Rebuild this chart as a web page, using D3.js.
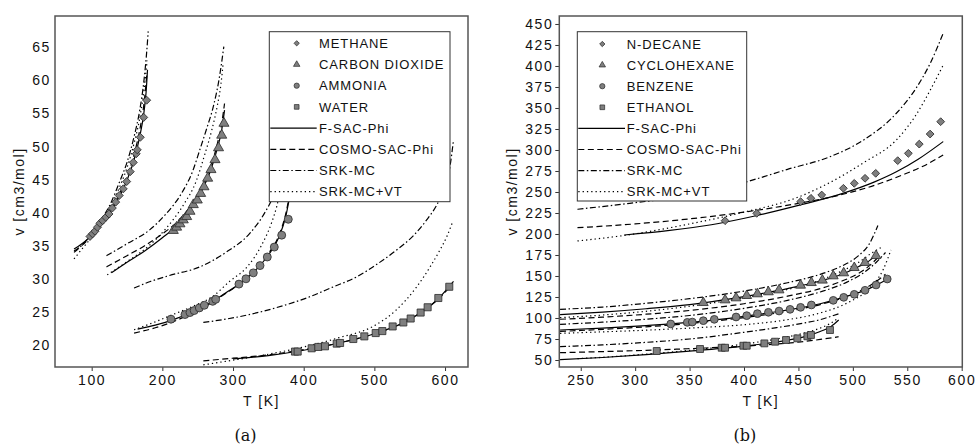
<!DOCTYPE html>
<html>
  <head>
    <meta charset="UTF-8">
    <title>Liquid molar volume</title>
    <script src="https://cdn.jsdelivr.net/npm/d3@7"></script>
    <style>
      body { margin: 0; background: #fff; }
      svg text { font-family: "Liberation Sans", Arial, sans-serif; fill: #111; }
      .tick text { font-size: 14px; letter-spacing: 1.6px; }
      .legend text { font-size: 13px; letter-spacing: 0.9px; }
      .title { font-size: 14px; letter-spacing: 1.5px; }
      .caption { font-family: "DejaVu Serif", "Liberation Serif", serif !important; font-size: 16px; }
    </style>
  </head>
  <body>
    <script>
      var models = ["F-SAC-Phi", "COSMO-SAC-Phi", "SRK-MC", "SRK-MC+VT"];

      // ---- panel (a) ----
      var compoundsA = ["METHANE", "CARBON DIOXIDE", "AMMONIA", "WATER"];
      var xTicksA = [100, 200, 300, 400, 500, 600];
      var yTicksA = [20, 25, 30, 35, 40, 45, 50, 55, 60, 65];

      var methaneExp = [[97.6,36.4],[101.2,36.8],[104.7,37.2],[108.2,37.8],[111.7,38.4],[115.5,38.8],[120,39.3],[124.5,39.8],[129.2,40.7],[134,41.6],[139,42.6],[144.7,43.6],[149.5,44.7],[154.6,46.2],[158.9,47.6],[163,48.9],[164.5,49.5],[168.8,51.4],[173.6,54.4],[177.8,57.0]];
      var methaneFsac = [[75,34.5],[90,35.6],[100,36.6],[115,38.5],[125,39.9],[140,42.6],[150,44.9],[160,48],[168,51.5],[174,55.2],[177,58.2],[179,61.6]];
      var methaneCosmo = [[75,34.2],[90,35.4],[100,36.5],[115,38.5],[125,40],[140,43],[150,45.4],[160,48.8],[168,52.5],[174,56.5],[178,60.8]];
      var methaneSrk = [[75,34.0],[90,35.5],[100,36.8],[115,39.2],[125,41.0],[140,44.8],[150,47.6],[160,51.5],[168,55.5],[174,60],[178,64.5],[180,67.4]];
      var methaneSrkVt = [[75,33.0],[90,35],[100,36.3],[115,38.8],[125,40.6],[140,44],[150,46.8],[160,50.5],[168,54.3],[174,58.5],[178.5,63]];

      var co2Exp = [[215.5,37.3],[220.2,37.8],[224.9,38.3],[229.6,38.9],[234.4,39.4],[239.1,40.2],[243.8,41.2],[249.4,41.9],[254.2,42.9],[258.9,43.9],[264.1,45.2],[268.8,46.5],[274.5,48],[279.5,49.8],[284,51.7],[287.2,53.5]];
      var co2Fsac = [[128,30.9],[150,32.5],[175,34.2],[200,36.2],[220,38],[240,40.7],[255,43.2],[268,46.3],[278,49.8],[284,52.5],[288,55.5]];
      var co2Cosmo = [[121,31.8],[150,33.5],[175,35.0],[200,36.8],[220,38.5],[240,41.0],[255,43.5],[268,46.8],[278,50.5],[284,53.5],[288,56.5]];
      var co2Srk = [[121,33.5],[150,35.3],[182,37.4],[205,39.8],[227,42.9],[243,46.3],[253,49.5],[263,52.8],[272,56],[280,60],[287,65.1]];
      var co2SrkVt = [[122,30.6],[150,32.6],[180,34.9],[205,37.6],[230,41.2],[248,44.8],[260,48.8],[270,52.5],[278,56.3],[283,59.5],[286,62.5]];

      var ammoniaExp = [[212.2,23.9],[232,24.6],[239.1,24.9],[245,25.2],[252.3,25.6],[259.4,26],[271.2,26.6],[275.5,26.9],[308.4,29.2],[318.3,30],[328.7,30.9],[338.2,32],[348.5,33.3],[358.4,34.8],[368.9,36.6],[378.2,39]];
      var ammoniaFsac = [[165,22.4],[190,23.0],[215,23.8],[240,24.9],[265,26.2],[290,27.9],[310,29.3],[330,31.1],[350,33.6],[365,36.3],[375,39.6],[382,43.5]];
      var ammoniaCosmo = [[160,21.8],[190,22.6],[215,23.5],[240,24.7],[265,26.1],[290,27.8],[310,29.3],[330,31.2],[350,33.8],[365,36.6],[375,40],[382,44]];
      var ammoniaSrk = [[160,28.6],[183,29.6],[210,30.5],[253,31.8],[290,34],[324,36.9],[345,40],[357,42.5],[365,45]];
      var ammoniaSrkVt = [[160,22.3],[190,23.5],[215,24.6],[240,25.7],[272,27.4],[295,29.6],[320,31.8],[340,35],[355,38.6],[362,41],[370,45]];

      var waterExp = [[387.7,19.0],[391.5,19.0],[411.3,19.5],[420.7,19.7],[430.1,19.8],[446.7,20.2],[451.5,20.3],[470.2,20.9],[485.8,21.3],[501.9,21.8],[511.3,22.1],[525.9,22.8],[541,23.4],[551.4,24],[565.5,24.9],[575.4,25.7],[590.5,27.1],[606,28.8]];
      var waterFsac = [[300,17.9],[350,18.4],[400,19.2],[450,20.3],[500,21.7],[540,23.3],[570,25.2],[595,27.5],[612,29.6]];
      var waterCosmo = [[258,17.6],[300,18.0],[350,18.5],[400,19.3],[450,20.3],[500,21.7],[540,23.3],[570,25.2],[595,27.4],[610,29.2]];
      var waterSrk = [[258,23.4],[310,24.3],[360,25.6],[404,27.1],[440,28.7],[475,30.3],[505,32.3],[532,34.4],[555,36.5],[574,38.9],[590,41.5],[600,44],[607,47],[612,51]];
      var waterSrkVt = [[258,17.0],[300,17.7],[350,18.6],[400,19.7],[450,21.1],[498,22.8],[530,25.2],[560,28.8],[580,32],[593,34.4],[603,36.5],[610,38.4]];

      // ---- panel (b) ----
      var compoundsB = ["N-DECANE", "CYCLOHEXANE", "BENZENE", "ETHANOL"];
      var xTicksB = [250, 300, 350, 400, 450, 500, 550, 600];
      var yTicksB = [50, 75, 100, 125, 150, 175, 200, 225, 250, 275, 300, 325, 350, 375, 400, 425, 450];

      var decaneExp = [[382.6,215.8],[411.7,224.6],[452,238.5],[461.5,242.5],[471.4,246.4],[491.3,254.4],[501.3,260.3],[511.2,266.3],[521,272.2],[541.2,287.3],[551,296],[561,307],[571,319],[580.7,333.7]];
      var decaneFsac = [[290,198.8],[330,204],[370,211],[412,222],[450,234],[490,248],[520,262],[540,274],[560,289],[583,310]];
      var decaneCosmo = [[247,207.5],[300,212],[350,218],[400,226],[450,236.5],[490,247],[520,258],[545,270],[565,281],[583,294]];
      var decaneSrk = [[247,229.4],[295,236.5],[350,246],[402,262],[440,277],[479,292],[510,312],[540,343.7],[559,375.4],[571,403],[583,439]];
      var decaneSrkVt = [[247,191.7],[297,199.6],[350,212],[400,226],[448,243],[480,262],[510,285],[540,312],[559,343.7],[571,371],[583,401]];

      var cyclohexaneExp = [[362.6,118.2],[382.6,121.4],[392.7,123.8],[402.5,126.6],[412.3,128.6],[422.4,131],[432.2,133.3],[452,138.9],[461.9,142],[472,144.9],[482,150],[491.6,153.6],[501.3,159.9],[511.2,165.9],[521.3,174.2]];
      var cyclohexaneFsac = [[231,104],[270,107],[310,111],[350,116],[400,125.5],[440,135],[470,144],[490,152],[505,161],[515,168],[523,177]];
      var cyclohexaneCosmo = [[231,98.5],[270,101],[310,104.5],[350,109],[400,117],[440,126],[470,135],[490,144],[505,153],[515,162],[523,172]];
      var cyclohexaneSrk = [[231,110.3],[270,113],[310,117.5],[350,123],[400,132],[440,142],[470,152],[490,162],[505,174],[515,188],[523,210]];
      var cyclohexaneSrkVt = [[231,100.4],[270,103.5],[310,108],[350,114],[400,124],[440,134],[470,145],[490,156],[505,166],[517,177],[526,184]];

      var benzeneExp = [[332.7,92.9],[347.9,94.8],[352.5,95.2],[362.6,96.8],[372.7,98.4],[392.7,101.2],[402.5,102.8],[412.3,105.2],[422.4,106.8],[432.2,108.3],[442.3,110.3],[452,112.7],[461.9,115.5],[482,121],[491.6,124.6],[501.3,128.2],[511.2,133],[521.3,139.3],[531.6,146.4]];
      var benzeneFsac = [[231,85.7],[270,88],[310,91],[350,94.7],[400,102],[440,109.5],[470,117],[495,126],[515,135],[533,147]];
      var benzeneCosmo = [[231,84],[270,86.5],[310,89.5],[350,93.5],[400,100.5],[440,108],[470,116],[495,126],[515,138],[530,152]];
      var benzeneSrk = [[231,92.5],[270,95],[310,98.5],[350,103],[400,111.5],[440,121],[470,131],[495,143],[510,154],[522,167],[530,178]];
      var benzeneSrkVt = [[231,81.7],[270,83.5],[310,85.5],[350,88],[400,92],[440,98],[470,106],[495,118],[515,135],[528,158],[535,181]];

      var ethanolExp = [[319.8,60.7],[359.6,63.1],[379.5,64.6],[382.6,64.6],[399.4,67],[402.5,67],[418.7,69.8],[428.5,71.8],[438.6,73.8],[449,75.8],[458.2,78.2],[461.5,79.8],[479,85.7]];
      var ethanolFsac = [[231,50.5],[270,53],[310,56.5],[350,60.5],[400,66.5],[430,71.5],[455,77.5],[470,84],[480,90],[487,97.6]];
      var ethanolCosmo = [[231,58.7],[270,60],[310,61.5],[350,63.5],[400,66.5],[430,69],[455,72],[470,74.5],[487,77.7]];
      var ethanolSrk = [[231,65.9],[270,68],[310,71],[350,75],[400,83],[430,88.5],[455,94],[470,98],[480,102],[487,105]];
      var ethanolSrkVt = [[247,51.6],[280,54],[310,57],[350,61.5],[400,69],[430,75],[455,82],[470,88],[480,94],[487,100.4]];

      // line style per model
      var dashes = { "F-SAC-Phi": null, "COSMO-SAC-Phi": "6,3.5", "SRK-MC": "6,2.5,1.5,2.5", "SRK-MC+VT": "1.3,3" };
      var symbols = [
        { type: d3.symbolSquare, rotate: 45, size: 32, legendSize: 14 },
        { type: d3.symbolTriangle, rotate: 0, size: 44, legendSize: 18 },
        { type: d3.symbolCircle, rotate: 0, size: 50, legendSize: 22 },
        { type: d3.symbolSquare, rotate: 0, size: 50, legendSize: 22 }
      ];

      var svg = d3.select("body").append("svg")
        .attr("width", 975)
        .attr("height", 446);

      function drawPanel(p) {
        var x = d3.scaleLinear().domain(p.xDomain).range([p.left, p.right]);
        var y = d3.scaleLinear().domain(p.yDomain).range([p.bottom, p.top]);
        var g = svg.append("g");

        g.append("clipPath").attr("id", p.id + "clip")
          .append("rect")
          .attr("x", p.left).attr("y", p.top)
          .attr("width", p.right - p.left).attr("height", p.bottom - p.top);

        var plot = g.append("g").attr("clip-path", "url(#" + p.id + "clip)");
        var line = d3.line()
          .x(function (d) { return x(d[0]); })
          .y(function (d) { return y(d[1]); })
          .curve(d3.curveMonotoneX);

        // model curves
        p.curves.forEach(function (set) {
          set.forEach(function (data, m) {
            plot.append("path")
              .datum(data)
              .attr("d", line)
              .attr("fill", "none")
              .attr("stroke", "#000")
              .attr("stroke-width", 1.2)
              .attr("stroke-dasharray", dashes[models[m]]);
          });
        });

        // experimental points
        p.exp.forEach(function (data, c) {
          var s = symbols[c];
          plot.selectAll(".pt" + c)
            .data(data)
            .enter().append("path")
            .attr("d", d3.symbol().type(s.type).size(s.size * p.markerScale))
            .attr("transform", function (d) {
              return "translate(" + x(d[0]) + "," + y(d[1]) + ") rotate(" + s.rotate + ")";
            })
            .attr("fill", "#7f7f7f")
            .attr("stroke", "#2a2a2a")
            .attr("stroke-width", 0.8);
        });

        // axes
        var xAxis = g.append("g")
          .attr("transform", "translate(0," + p.bottom + ")")
          .call(d3.axisBottom(x).tickValues(p.xTicks).tickSize(4).tickPadding(4));
        var yAxis = g.append("g")
          .attr("transform", "translate(" + p.left + ",0)")
          .call(d3.axisLeft(y).tickValues(p.yTicks).tickSize(p.yTickSize).tickPadding(p.yTickPad));
        [xAxis, yAxis].forEach(function (a) {
          a.select(".domain").remove();
          a.selectAll(".tick line").attr("stroke", "#333");
          a.selectAll(".tick text").attr("fill", "#111");
        });

        // frame
        g.append("rect")
          .attr("x", p.left).attr("y", p.top)
          .attr("width", p.right - p.left).attr("height", p.bottom - p.top)
          .attr("fill", "none")
          .attr("stroke", "#555")
          .attr("stroke-width", 1.5);

        // axis titles
        g.append("text").attr("class", "title")
          .attr("x", (p.left + p.right) / 2).attr("y", 406)
          .attr("text-anchor", "middle")
          .text("T [K]");
        g.append("text").attr("class", "title")
          .attr("transform", "translate(" + p.yTitleX + "," + (p.top + p.bottom) / 2 + ") rotate(-90)")
          .attr("text-anchor", "middle")
          .text("v [cm3/mol]");

        g.append("text").attr("class", "caption")
          .attr("x", (p.left + p.right) / 2 - 16).attr("y", 441)
          .attr("text-anchor", "middle")
          .text(p.caption);

        // legend
        var L = p.legend;
        var lg = g.append("g").attr("class", "legend");
        lg.append("rect")
          .attr("x", L.x).attr("y", L.y).attr("width", L.w).attr("height", L.h)
          .attr("fill", "#fff").attr("stroke", "#333").attr("stroke-width", 1);
        var rows = p.compounds.concat(models);
        rows.forEach(function (name, i) {
          var ry = L.row0 + i * L.step;
          if (i < 4) {
            var s = symbols[i];
            lg.append("path")
              .attr("d", d3.symbol().type(s.type).size(s.legendSize))
              .attr("transform", "translate(" + L.markX + "," + ry + ") rotate(" + s.rotate + ")")
              .attr("fill", "#7f7f7f").attr("stroke", "#2a2a2a").attr("stroke-width", 0.7);
          } else {
            lg.append("line")
              .attr("x1", L.x + 1).attr("x2", L.lineEnd)
              .attr("y1", ry).attr("y2", ry)
              .attr("stroke", "#000").attr("stroke-width", 1.2)
              .attr("stroke-dasharray", dashes[name]);
          }
          lg.append("text")
            .attr("x", L.textX).attr("y", ry).attr("dy", "0.36em")
            .text(name);
        });
      }

      drawPanel({
        id: "a", caption: "(a)",
        left: 55, right: 468, top: 16, bottom: 367,
        xDomain: [48.1, 632.5], yDomain: [16.67, 69.73],
        xTicks: xTicksA, yTicks: yTicksA, yTickSize: 0, yTickPad: 4,
        yTitleX: 24, markerScale: 1,
        compounds: compoundsA,
        exp: [methaneExp, co2Exp, ammoniaExp, waterExp],
        curves: [
          [methaneFsac, methaneCosmo, methaneSrk, methaneSrkVt],
          [co2Fsac, co2Cosmo, co2Srk, co2SrkVt],
          [ammoniaFsac, ammoniaCosmo, ammoniaSrk, ammoniaSrkVt],
          [waterFsac, waterCosmo, waterSrk, waterSrkVt]
        ],
        legend: { x: 269.3, y: 31.7, w: 180.7, h: 170, markX: 296.7, textX: 319, lineEnd: 316.7, row0: 43.3, step: 21.2 }
      });

      drawPanel({
        id: "b", caption: "(b)",
        left: 559.3, right: 962.3, top: 16, bottom: 367,
        xDomain: [230.3, 600.55], yDomain: [41.67, 459.5],
        xTicks: xTicksB, yTicks: yTicksB, yTickSize: 4, yTickPad: 2,
        yTitleX: 517, markerScale: 0.95,
        compounds: compoundsB,
        exp: [decaneExp, cyclohexaneExp, benzeneExp, ethanolExp],
        curves: [
          [decaneFsac, decaneCosmo, decaneSrk, decaneSrkVt],
          [cyclohexaneFsac, cyclohexaneCosmo, cyclohexaneSrk, cyclohexaneSrkVt],
          [benzeneFsac, benzeneCosmo, benzeneSrk, benzeneSrkVt],
          [ethanolFsac, ethanolCosmo, ethanolSrk, ethanolSrkVt]
        ],
        legend: { x: 577.3, y: 31.7, w: 169.4, h: 169.3, markX: 602.3, textX: 626.7, lineEnd: 625, row0: 44, step: 21.1 }
      });
    </script>
  </body>
</html>
